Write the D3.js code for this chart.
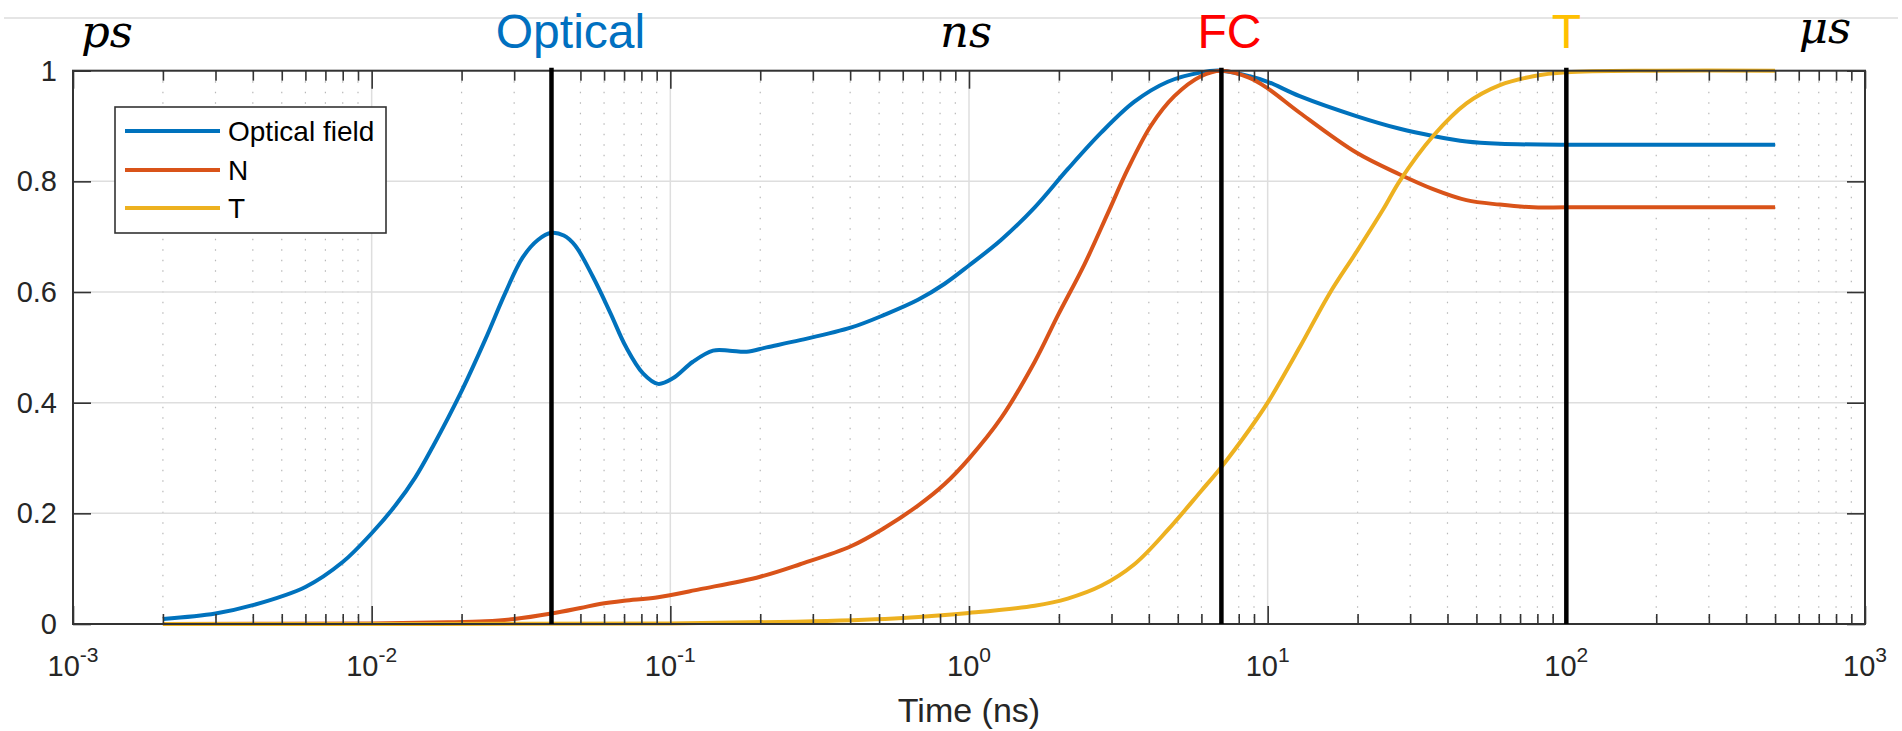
<!DOCTYPE html>
<html>
<head>
<meta charset="utf-8">
<script src="https://cdn.jsdelivr.net/npm/d3@7"></script>
<style>
  body { margin: 0; background: #fff; }
  svg { display: block; }
</style>
</head>
<body>
<svg id="chart" width="1902" height="731"></svg>
<script>
// values (time in ns, normalised amplitude)
var opticalTime  = [0.002,0.003,0.004,0.006,0.008,0.010,0.012,0.014,0.016,0.020,0.024,0.028,0.032,0.036,0.040,0.044,0.048,0.055,0.063,0.071,0.081,0.091,0.102,0.119,0.139,0.158,0.180,0.210,0.272,0.404,0.522,0.675,0.829,1.0,1.28,1.66,2.14,2.77,3.58,4.63,5.98,6.98,8.7,10,12.8,19.8,27.7,35.8,46.3,59.9,100,200,500];
var opticalField = [0.009,0.019,0.034,0.067,0.112,0.164,0.214,0.265,0.320,0.421,0.514,0.598,0.662,0.694,0.707,0.702,0.684,0.628,0.562,0.501,0.453,0.434,0.444,0.474,0.494,0.494,0.492,0.500,0.513,0.536,0.559,0.586,0.615,0.648,0.694,0.753,0.822,0.888,0.944,0.980,0.997,1.000,0.990,0.980,0.954,0.918,0.895,0.882,0.872,0.868,0.866,0.866,0.866];

var nTime   = [0.002,0.01,0.018,0.024,0.030,0.040,0.050,0.058,0.070,0.090,0.126,0.200,0.272,0.404,0.522,0.675,0.829,1.0,1.28,1.66,1.99,2.44,2.92,3.40,4.07,4.87,5.98,6.98,8.7,10,12.8,19.8,27.7,35.8,46.3,59.9,77.5,100,200,500];
var nValues = [0,0.001,0.003,0.005,0.009,0.019,0.029,0.036,0.042,0.048,0.063,0.0855,0.108,0.141,0.174,0.214,0.253,0.299,0.372,0.474,0.559,0.651,0.743,0.822,0.901,0.954,0.990,1.0,0.987,0.968,0.924,0.852,0.8125,0.786,0.766,0.758,0.753,0.753,0.753,0.753];

var tTime   = [0.002,0.1,0.3,0.6,1.0,1.66,2.14,2.77,3.58,4.63,5.98,6.98,8.7,10,12.8,16.1,19.8,24.4,27.7,35.8,46.3,59.9,77.5,100,200,500];
var tValues = [0,0.001,0.005,0.011,0.020,0.033,0.046,0.069,0.108,0.170,0.240,0.283,0.352,0.400,0.500,0.597,0.672,0.750,0.801,0.882,0.941,0.974,0.990,0.997,1.0,1.0];

var seriesNames  = ["Optical field", "N", "T"];
var seriesColors = ["#0072BD", "#D95319", "#EDB120"];

var markerTimes  = [0.04, 7, 100];
var markerLabels = ["Optical", "FC", "T"];
var markerColors = ["#0070C0", "#FF0000", "#FFC000"];

var unitLabels = ["ps", "ns", "\u03bcs"];
var unitTimes  = [1e-3, 1, 1e3];

var decadeExps = [-3, -2, -1, 0, 1, 2, 3];
var yTicks     = [0, 0.2, 0.4, 0.6, 0.8, 1];

var svg = d3.select("#chart");
var sans = "'Liberation Sans', Arial, Helvetica, sans-serif";

var x = d3.scaleLog().domain([1e-3, 1e3]).range([73, 1865]);
var y = d3.scaleLinear().domain([0, 1]).range([624, 70.7]);

var majors = decadeExps.map(e => Math.pow(10, e));
var minors = [];
decadeExps.slice(0, -1).forEach(e => {
  for (var k = 2; k <= 9; k++) minors.push(k * Math.pow(10, e));
});

// thin rule across the top of the slide
svg.append("line")
  .attr("x1", 4).attr("x2", 1898).attr("y1", 18).attr("y2", 18)
  .style("stroke", "#dcdcdc").style("stroke-width", 1.5);

// grid
var grid = svg.append("g");
grid.selectAll("line.minor").data(minors).enter().append("line")
  .attr("x1", d => x(d)).attr("x2", d => x(d))
  .attr("y1", y(1)).attr("y2", y(0))
  .style("stroke", "#b8b8b8").style("stroke-width", 1.2)
  .style("stroke-dasharray", "1.5,9");
grid.selectAll("line.vmajor").data(majors).enter().append("line")
  .attr("x1", d => x(d)).attr("x2", d => x(d))
  .attr("y1", y(1)).attr("y2", y(0))
  .style("stroke", "#dedede").style("stroke-width", 1.5);
grid.selectAll("line.hmajor").data(yTicks).enter().append("line")
  .attr("x1", x(1e-3)).attr("x2", x(1e3))
  .attr("y1", d => y(d)).attr("y2", d => y(d))
  .style("stroke", "#dedede").style("stroke-width", 1.5);

// curves
var line = d3.line()
  .x(d => x(d[0])).y(d => y(d[1]))
  .curve(d3.curveCatmullRom.alpha(0.5));

var series = [
  d3.zip(opticalTime, opticalField),
  d3.zip(nTime, nValues),
  d3.zip(tTime, tValues)
];
series.forEach((s, i) => {
  svg.append("path").datum(s)
    .attr("d", line)
    .style("fill", "none")
    .style("stroke", seriesColors[i])
    .style("stroke-width", 4)
    .style("stroke-linejoin", "round");
});

// axes (MATLAB style box, ticks inside)
function styleAxis(g) {
  g.select(".domain").remove();
  g.selectAll(".tick line").style("stroke", "#333").style("stroke-width", 1.6);
  g.selectAll(".tick text").remove();
}
svg.append("g").attr("transform", "translate(0," + y(0) + ")")
  .call(d3.axisBottom(x).tickValues(majors).tickSize(-18).tickFormat(""))
  .call(styleAxis);
svg.append("g").attr("transform", "translate(0," + y(0) + ")")
  .call(d3.axisBottom(x).tickValues(minors).tickSize(-10).tickFormat(""))
  .call(styleAxis);
svg.append("g").attr("transform", "translate(0," + y(1) + ")")
  .call(d3.axisTop(x).tickValues(majors).tickSize(-18).tickFormat(""))
  .call(styleAxis);
svg.append("g").attr("transform", "translate(0," + y(1) + ")")
  .call(d3.axisTop(x).tickValues(minors).tickSize(-10).tickFormat(""))
  .call(styleAxis);
svg.append("g").attr("transform", "translate(" + x(1e-3) + ",0)")
  .call(d3.axisLeft(y).tickValues(yTicks).tickSize(-18).tickFormat(""))
  .call(styleAxis);
svg.append("g").attr("transform", "translate(" + x(1e3) + ",0)")
  .call(d3.axisRight(y).tickValues(yTicks).tickSize(-18).tickFormat(""))
  .call(styleAxis);

svg.append("rect")
  .attr("x", x(1e-3)).attr("y", y(1))
  .attr("width", x(1e3) - x(1e-3)).attr("height", y(0) - y(1))
  .style("fill", "none").style("stroke", "#333").style("stroke-width", 2);

// marker lines
svg.selectAll("line.marker").data(markerTimes).enter().append("line")
  .attr("x1", d => x(d)).attr("x2", d => x(d))
  .attr("y1", y(1) - 3).attr("y2", y(0))
  .style("stroke", "#000").style("stroke-width", 4.5);

// tick labels
svg.selectAll("text.ylab").data(yTicks).enter().append("text")
  .attr("x", 57).attr("y", d => y(d) + 10)
  .attr("text-anchor", "end")
  .style("font-family", sans).style("font-size", "29px").style("fill", "#262626")
  .text(d => d3.format("~g")(d));

var xl = svg.selectAll("text.xlab").data(decadeExps).enter().append("text")
  .attr("x", d => x(Math.pow(10, d)))
  .attr("y", 676)
  .attr("text-anchor", "middle")
  .style("font-family", sans).style("font-size", "29px").style("fill", "#262626");
xl.append("tspan").text("10");
xl.append("tspan").attr("dy", -14).style("font-size", "21px").text(d => d < 0 ? "-" + (-d) : d);

svg.append("text")
  .attr("x", (x(1e-3) + x(1e3)) / 2).attr("y", 722)
  .attr("text-anchor", "middle")
  .style("font-family", sans).style("font-size", "34px").style("fill", "#262626")
  .text("Time (ns)");

// annotations over the plot
var labelShift = [19, 8, 0];
svg.selectAll("text.marker").data(markerLabels).enter().append("text")
  .attr("x", (d, i) => x(markerTimes[i]) + labelShift[i])
  .attr("y", 48)
  .attr("text-anchor", "middle")
  .style("font-family", sans).style("font-size", "48px")
  .style("fill", (d, i) => markerColors[i])
  .text(d => d);

var unitShift = [34, -3, -40];
var unitBase = [47, 47, 43];
svg.selectAll("text.unit").data(unitLabels).enter().append("text")
  .attr("x", (d, i) => x(unitTimes[i]) + unitShift[i])
  .attr("y", (d, i) => unitBase[i])
  .attr("text-anchor", "middle")
  .style("font-family", "'DejaVu Serif', serif").style("font-style", "italic")
  .style("font-size", "45px").style("fill", "#000")
  .text(d => d);

// legend
var legend = svg.append("g").attr("transform", "translate(115,107)");
legend.append("rect")
  .attr("width", 271).attr("height", 126)
  .style("fill", "#fff").style("stroke", "#333").style("stroke-width", 1.6);
var rows = [24, 63, 101];
seriesNames.forEach((name, i) => {
  legend.append("line")
    .attr("x1", 10).attr("x2", 105).attr("y1", rows[i]).attr("y2", rows[i])
    .style("stroke", seriesColors[i]).style("stroke-width", 4);
  legend.append("text")
    .attr("x", 113).attr("y", rows[i] + 10)
    .style("font-family", sans).style("font-size", "28px").style("fill", "#000")
    .text(name);
});
</script>
</body>
</html>
